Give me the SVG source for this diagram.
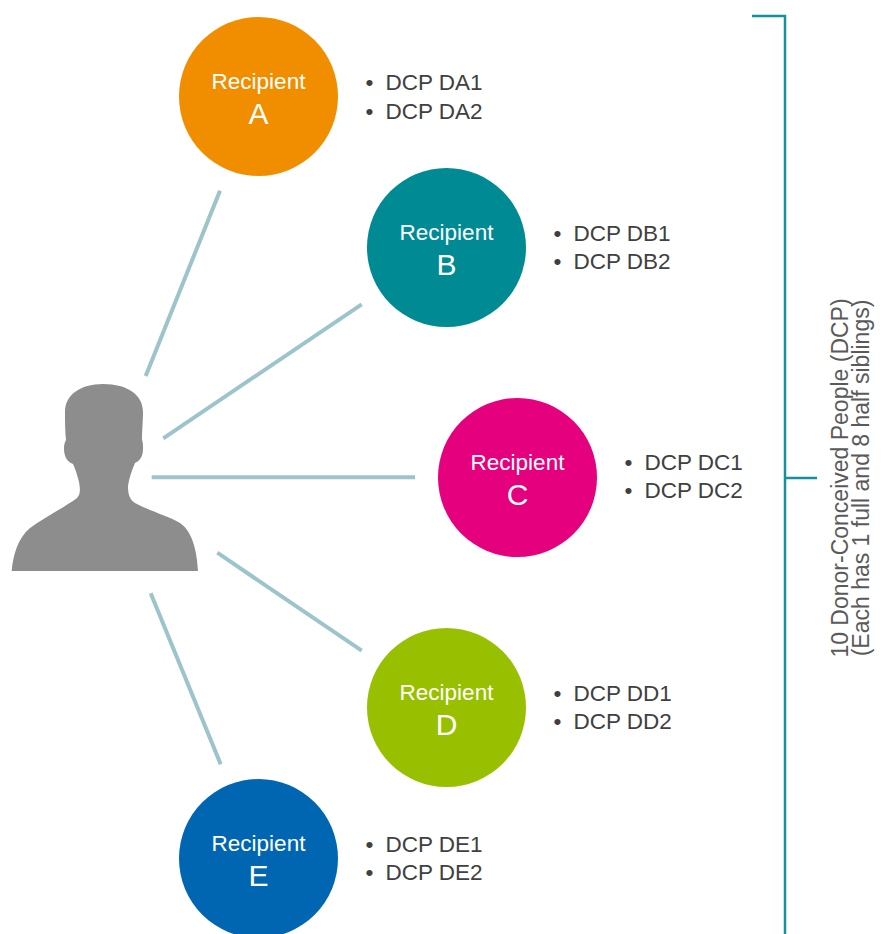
<svg xmlns="http://www.w3.org/2000/svg" width="881" height="934" viewBox="0 0 881 934">
<style>
.conn{stroke:#9cc4ca;stroke-width:4;fill:none;stroke-linecap:butt}
.lbl{font-family:"Liberation Sans",Arial,sans-serif;fill:#ffffff;text-anchor:middle}
.rec{font-size:22.5px}
.let{font-size:30px}
.dcp{font-family:"Liberation Sans",Arial,sans-serif;font-size:22.5px;fill:#404040}
.side{font-family:"Liberation Sans",Arial,sans-serif;font-size:23px;fill:#5a5a5a;text-anchor:middle}
.br{stroke:#16909a;stroke-width:2.5;fill:none}
</style>
<rect width="881" height="934" fill="#ffffff"/>
<g id="connectors">
<line class="conn" x1="145.7" y1="376" x2="220" y2="190.7"/>
<line class="conn" x1="163.3" y1="438.3" x2="361.7" y2="304.3"/>
<line class="conn" x1="151.7" y1="477.3" x2="415" y2="477.3"/>
<line class="conn" x1="217.3" y1="552.7" x2="361.7" y2="650.7"/>
<line class="conn" x1="150.7" y1="593.3" x2="220.7" y2="764.3"/>
</g>
<g id="donor">
<path fill="#8e8d8e" d="M11.7,571 C13,555 18,538 30,528 C45,517 65,507 77,498 C81,494 80,488 79,482 C77,474 75,468 73,464 C67,462 64,456 64,449 C64,444 65,442 66,440 C65,430 65,418 65,412 C65,395 80,384 103,384 C128,384 143,395 143,412 C143,420 142,432 142,440 C143,442 143,445 143,449 C143,456 140,461 135,463 C132,470 129,478 128,486 C128,493 129,499 135,503 C150,511 168,516 180,523 C192,531 197,550 198,571 Z"/>
</g>
<g id="recipient-a">
<circle cx="258.5" cy="96.5" r="79.5" fill="#f08e00"/>
<text class="lbl rec" x="258.5" y="89">Recipient</text>
<text class="lbl let" x="258.5" y="124">A</text>
<text class="dcp" x="365.5" y="89.5">•</text>
<text class="dcp" x="385.5" y="89.5">DCP DA1</text>
<text class="dcp" x="365.5" y="118.5">•</text>
<text class="dcp" x="385.5" y="118.5">DCP DA2</text>
</g>
<g id="recipient-b">
<circle cx="446.5" cy="247.5" r="79.5" fill="#008a93"/>
<text class="lbl rec" x="446.5" y="240">Recipient</text>
<text class="lbl let" x="446.5" y="274.5">B</text>
<text class="dcp" x="553.5" y="241">•</text>
<text class="dcp" x="573.5" y="241">DCP DB1</text>
<text class="dcp" x="553.5" y="269">•</text>
<text class="dcp" x="573.5" y="269">DCP DB2</text>
</g>
<g id="recipient-c">
<circle cx="517.5" cy="477.5" r="79.5" fill="#e5007e"/>
<text class="lbl rec" x="517.5" y="470">Recipient</text>
<text class="lbl let" x="517.5" y="504.5">C</text>
<text class="dcp" x="624.5" y="470">•</text>
<text class="dcp" x="644.5" y="470">DCP DC1</text>
<text class="dcp" x="624.5" y="498">•</text>
<text class="dcp" x="644.5" y="498">DCP DC2</text>
</g>
<g id="recipient-d">
<circle cx="446.5" cy="707.5" r="79.5" fill="#99c000"/>
<text class="lbl rec" x="446.5" y="700">Recipient</text>
<text class="lbl let" x="446.5" y="734.5">D</text>
<text class="dcp" x="553.5" y="701">•</text>
<text class="dcp" x="573.5" y="701">DCP DD1</text>
<text class="dcp" x="553.5" y="729">•</text>
<text class="dcp" x="573.5" y="729">DCP DD2</text>
</g>
<g id="recipient-e">
<circle cx="258.5" cy="858.5" r="79.5" fill="#0066b2"/>
<text class="lbl rec" x="258.5" y="851">Recipient</text>
<text class="lbl let" x="258.5" y="885.5">E</text>
<text class="dcp" x="365.5" y="852">•</text>
<text class="dcp" x="385.5" y="852">DCP DE1</text>
<text class="dcp" x="365.5" y="880">•</text>
<text class="dcp" x="385.5" y="880">DCP DE2</text>
</g>
<g id="bracket">
<path class="br" d="M752,16 H785 V934 M785,478 H817"/>
<text class="side" transform="translate(848,478) rotate(-90)">10 Donor-Conceived People (DCP)</text>
<text class="side" transform="translate(869,478) rotate(-90)">(Each has 1 full and 8 half siblings)</text>
</g>
</svg>
